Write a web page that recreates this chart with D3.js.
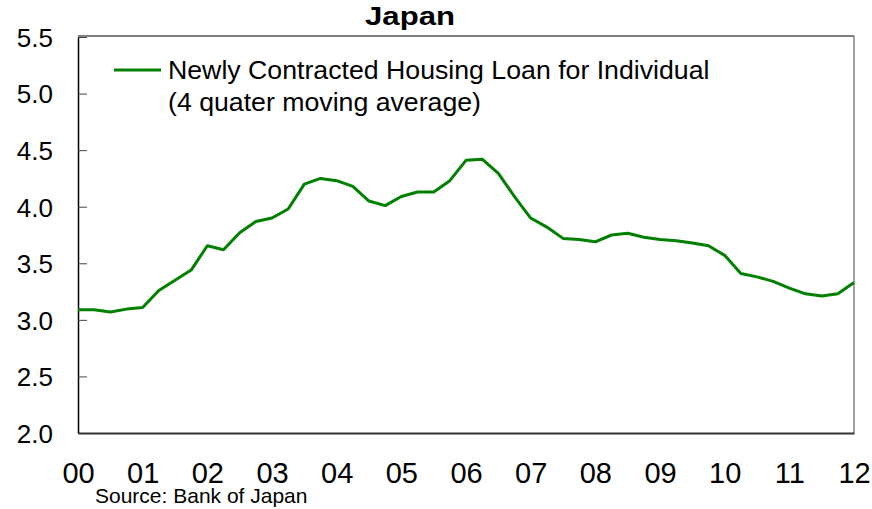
<!DOCTYPE html>
<html><head><meta charset="utf-8">
<script src="https://cdn.jsdelivr.net/npm/d3@7"></script>
<style>body{margin:0;background:#fff;} svg{display:block;font-family:"Liberation Sans",Arial,sans-serif;}</style>
</head><body><svg id="c" width="872" height="509"></svg>
<script>
// Quarterly, 2000Q1 .. 2012Q1 (x in fractional years from 2000)
const quarters = d3.range(49).map(i => i / 4);
const values = [3.09,3.09,3.07,3.095,3.11,3.26,3.35,3.44,3.655,3.62,3.77,3.87,3.90,3.98,4.20,4.25,
  4.23,4.18,4.05,4.01,4.09,4.13,4.13,4.23,4.41,4.42,4.295,4.09,3.90,3.82,3.72,3.71,
  3.69,3.75,3.765,3.73,3.71,3.70,3.68,3.655,3.57,3.41,3.38,3.34,3.28,3.23,3.21,3.23,3.33];
const yTicks = [2.0,2.5,3.0,3.5,4.0,4.5,5.0,5.5];
const xTickLabels = ["00","01","02","03","04","05","06","07","08","09","10","11","12"];
const title = "Japan";
const legendLines = ["Newly Contracted Housing Loan for Individual","(4 quater moving average)"];
const source = "Source: Bank of Japan";

const svg = d3.select("#c");
const L = 78, R = 854, T = 37, B = 433;
const x = d3.scaleLinear().domain([0, 12]).range([L, R]);
const y = d3.scaleLinear().domain([2.0, 5.5]).range([B, T]);

// frame: top and right borders
svg.append("line").attr("x1", L).attr("x2", R).attr("y1", T - 1).attr("y2", T - 1).attr("stroke", "#000").attr("stroke-width", 1);
svg.append("line").attr("x1", R).attr("x2", R).attr("y1", T - 1).attr("y2", B).attr("stroke", "#808080").attr("stroke-width", 1.5);

// y axis
const ya = svg.append("g").attr("transform", `translate(${L},0)`)
  .call(d3.axisLeft(y).tickValues(yTicks).tickFormat(d3.format(".1f")).tickSizeInner(-9).tickSizeOuter(0).tickPadding(25));
ya.select(".domain").attr("stroke", "#000").attr("stroke-width", 1.5);
ya.selectAll(".tick line").attr("stroke", "#444");
ya.selectAll(".tick text").attr("font-size", 26).attr("fill", "#000").attr("dy", "0.36em").attr("font-family", "Liberation Sans, Arial, sans-serif");

// x axis
const xa = svg.append("g").attr("transform", `translate(0,${B})`)
  .call(d3.axisBottom(x).tickValues(d3.range(13)).tickFormat(i => xTickLabels[i]).tickSize(0).tickPadding(29));
xa.select(".domain").attr("stroke", "#333").attr("stroke-width", 2);
xa.selectAll(".tick text").attr("font-size", 29).attr("fill", "#000").attr("dy", "0.71em").attr("font-family", "Liberation Sans, Arial, sans-serif");

// line
const line = d3.line().x((d, i) => x(quarters[i])).y(d => y(d));
svg.append("path").datum(values).attr("d", line).attr("fill", "none")
  .attr("stroke", "#008000").attr("stroke-width", 3).attr("stroke-linejoin", "round");

// legend
svg.append("line").attr("x1", 114).attr("x2", 161).attr("y1", 70).attr("y2", 70).attr("stroke", "#008000").attr("stroke-width", 3);
legendLines.forEach((t, i) => {
  svg.append("text").attr("x", 168).attr("y", 79 + i * 32).attr("font-size", 26.7).attr("fill", "#000").text(t);
});

// title
svg.append("text").attr("x", 410).attr("y", 25).attr("text-anchor", "middle").attr("font-size", 25)
  .attr("font-weight", "bold").attr("textLength", 90).attr("lengthAdjust", "spacingAndGlyphs").text(title);

// source
svg.append("text").attr("x", 95).attr("y", 503).attr("font-size", 21).attr("fill", "#000").text(source);
</script></body></html>
